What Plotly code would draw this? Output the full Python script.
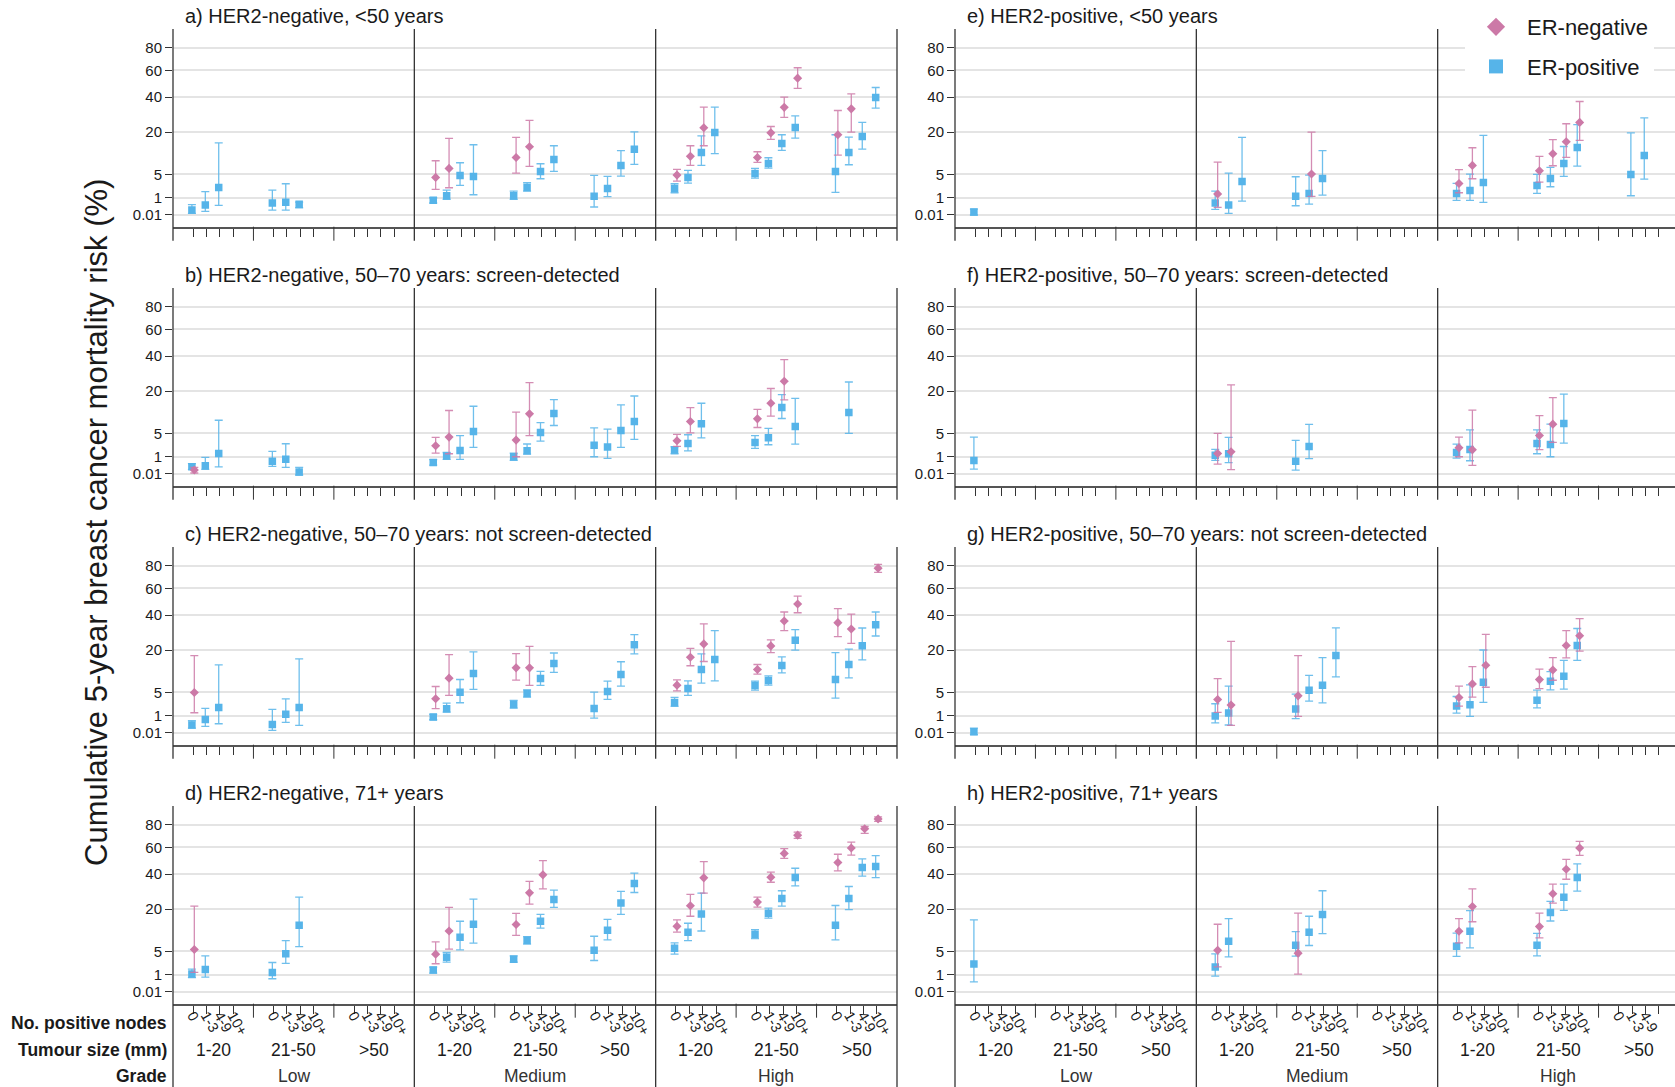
import numpy as np
import plotly.graph_objects as go

# ---------------------------------------------------------------- categories
GRADES = ["Low", "Medium", "High"]
SIZES = ["1-20", "21-50", ">50"]
NODES = ["0", "1-3", "4-9", "10+"]

Y_TICKS = [0.01, 1, 5, 20, 40, 60, 80]
Y_TICK_TEXT = ["0.01", "1", "5", "20", "40", "60", "80"]

# ---------------------------------------------------------------- data
# each row: (grade, tumour size, positive nodes, estimate %, lower CI %, upper CI %)

# a) HER2-negative, <50 years
A_ER_POS = [
    ("Low", "1-20", "0", 0.12, 0.029, 0.40),
    ("Low", "1-20", "1-3", 0.37, 0.076, 1.74),
    ("Low", "1-20", "4-9", 2.39, 0.35, 15.3),
    ("Low", "21-50", "0", 0.52, 0.12, 1.98),
    ("Low", "21-50", "1-3", 0.57, 0.12, 3.03),
    ("Low", "21-50", "4-9", 0.42, 0.22, 0.59),
    ("Medium", "1-20", "0", 0.74, 0.52, 1.0),
    ("Medium", "1-20", "1-3", 1.22, 0.83, 1.98),
    ("Medium", "1-20", "4-9", 4.77, 2.73, 8.14),
    ("Medium", "1-20", "10+", 4.53, 1.34, 14.5),
    ("Medium", "21-50", "0", 1.22, 0.83, 1.83),
    ("Medium", "21-50", "1-3", 2.39, 1.83, 3.22),
    ("Medium", "21-50", "4-9", 5.73, 4.02, 7.84),
    ("Medium", "21-50", "10+", 9.18, 5.73, 14.1),
    ("Medium", ">50", "0", 1.15, 0.26, 4.77),
    ("Medium", ">50", "1-3", 2.23, 1.11, 4.53),
    ("Medium", ">50", "4-9", 7.36, 4.61, 12.2),
    ("Medium", ">50", "10+", 12.7, 7.64, 20.2),
    ("High", "1-20", "0", 2.23, 1.6, 3.03),
    ("High", "1-20", "1-3", 4.31, 3.16, 5.99),
    ("High", "1-20", "4-9", 11.56, 7.36, 18.3),
    ("High", "1-20", "10+", 19.9, 11.1, 33.7),
    ("High", "21-50", "0", 5.24, 4.17, 6.52),
    ("High", "21-50", "1-3", 7.94, 6.61, 9.72),
    ("High", "21-50", "4-9", 15.0, 12.3, 18.8),
    ("High", "21-50", "10+", 22.3, 17.3, 28.5),
    ("High", ">50", "0", 5.73, 1.64, 18.8),
    ("High", ">50", "1-3", 11.56, 7.55, 17.7),
    ("High", ">50", "4-9", 18.0, 12.8, 24.9),
    ("High", ">50", "10+", 39.9, 33.0, 46.8),
]
A_ER_NEG = [
    ("Medium", "1-20", "0", 4.31, 2.08, 8.76),
    ("Medium", "1-20", "1-3", 6.52, 2.34, 17.2),
    ("Medium", "21-50", "0", 9.83, 5.32, 17.6),
    ("Medium", "21-50", "1-3", 13.7, 7.07, 26.0),
    ("High", "1-20", "0", 4.84, 3.55, 6.25),
    ("High", "1-20", "1-3", 10.2, 7.36, 14.1),
    ("High", "1-20", "4-9", 22.2, 14.1, 33.7),
    ("High", "21-50", "0", 9.83, 8.24, 11.8),
    ("High", "21-50", "1-3", 19.7, 16.7, 22.8),
    ("High", "21-50", "4-9", 33.5, 27.6, 40.1),
    ("High", "21-50", "10+", 53.8, 46.1, 62.2),
    ("High", ">50", "0", 18.8, 10.6, 31.6),
    ("High", ">50", "1-3", 32.6, 20.0, 42.3),
]

# b) HER2-negative, 50-70 years: screen-detected
B_ER_POS = [
    ("Low", "1-20", "0", 0.22, 0.11, 0.40),
    ("Low", "1-20", "1-3", 0.27, 0.11, 0.93),
    ("Low", "1-20", "4-9", 1.38, 0.21, 8.6),
    ("Low", "21-50", "0", 0.57, 0.24, 1.64),
    ("Low", "21-50", "1-3", 0.74, 0.19, 2.85),
    ("Low", "21-50", "4-9", 0.036, 0.001, 0.19),
    ("Medium", "1-20", "0", 0.49, 0.31, 0.71),
    ("Medium", "1-20", "1-3", 1.07, 0.74, 1.5),
    ("Medium", "1-20", "4-9", 1.78, 0.74, 4.5),
    ("Medium", "1-20", "10+", 5.47, 2.23, 13.5),
    ("Medium", "21-50", "0", 1.0, 0.65, 1.43),
    ("Medium", "21-50", "1-3", 1.73, 1.3, 2.8),
    ("Medium", "21-50", "4-9", 5.2, 3.35, 7.9),
    ("Medium", "21-50", "10+", 10.8, 7.05, 16.2),
    ("Medium", ">50", "0", 2.6, 1.0, 6.4),
    ("Medium", ">50", "1-3", 2.28, 0.83, 6.05),
    ("Medium", ">50", "4-9", 5.72, 2.23, 14.05),
    ("Medium", ">50", "10+", 8.2, 3.67, 17.8),
    ("High", "1-20", "0", 1.83, 1.34, 2.34),
    ("High", "1-20", "1-3", 2.9, 1.73, 4.68),
    ("High", "1-20", "4-9", 7.53, 4.0, 14.7),
    ("High", "21-50", "0", 3.09, 2.07, 4.5),
    ("High", "21-50", "1-3", 4.0, 2.67, 6.24),
    ("High", "21-50", "4-9", 13.0, 9.16, 18.4),
    ("High", "21-50", "10+", 6.78, 2.79, 16.7),
    ("High", ">50", "1-3", 11.2, 4.99, 24.6),
]
B_ER_NEG = [
    ("Low", "1-20", "0", 0.087, 0.019, 0.19),
    ("Medium", "1-20", "0", 2.5, 1.43, 4.09),
    ("Medium", "1-20", "1-3", 4.16, 1.34, 11.9),
    ("Medium", "21-50", "0", 3.54, 1.0, 11.3),
    ("Medium", "21-50", "1-3", 10.7, 4.5, 24.3),
    ("High", "1-20", "0", 3.41, 2.39, 4.76),
    ("High", "1-20", "1-3", 8.2, 5.14, 13.0),
    ("High", "21-50", "0", 9.05, 6.5, 12.3),
    ("High", "21-50", "1-3", 14.7, 9.9, 21.3),
    ("High", "21-50", "4-9", 25.0, 16.1, 37.7),
]

# c) HER2-negative, 50-70 years: not screen-detected
C_ER_POS = [
    ("Low", "1-20", "0", 0.26, 0.12, 0.54),
    ("Low", "1-20", "1-3", 0.65, 0.19, 1.93),
    ("Low", "1-20", "4-9", 2.07, 0.33, 13.65),
    ("Low", "21-50", "0", 0.29, 0.05, 1.78),
    ("Low", "21-50", "1-3", 1.15, 0.42, 3.6),
    ("Low", "21-50", "4-9", 2.07, 0.24, 16.1),
    ("Medium", "1-20", "0", 0.86, 0.62, 1.15),
    ("Medium", "1-20", "1-3", 1.88, 1.43, 2.79),
    ("Medium", "1-20", "4-9", 5.06, 2.85, 8.53),
    ("Medium", "1-20", "10+", 10.5, 5.72, 19.2),
    ("Medium", "21-50", "0", 2.56, 1.97, 3.28),
    ("Medium", "21-50", "1-3", 4.75, 3.94, 5.64),
    ("Medium", "21-50", "4-9", 8.84, 6.78, 11.2),
    ("Medium", "21-50", "10+", 14.2, 10.9, 18.7),
    ("Medium", ">50", "0", 1.93, 0.77, 5.06),
    ("Medium", ">50", "1-3", 5.23, 3.47, 8.02),
    ("Medium", ">50", "4-9", 10.1, 6.6, 14.9),
    ("Medium", ">50", "10+", 22.7, 18.3, 28.1),
    ("High", "1-20", "0", 2.91, 2.23, 3.88),
    ("High", "1-20", "1-3", 5.97, 4.3, 8.12),
    ("High", "1-20", "4-9", 11.9, 7.43, 18.3),
    ("High", "1-20", "10+", 15.8, 8.12, 30.4),
    ("High", "21-50", "0", 6.78, 5.55, 8.02),
    ("High", "21-50", "1-3", 8.22, 6.87, 9.7),
    ("High", "21-50", "4-9", 13.4, 10.7, 17.0),
    ("High", "21-50", "10+", 25.0, 20.0, 30.9),
    ("High", ">50", "0", 8.53, 3.74, 18.9),
    ("High", ">50", "1-3", 13.8, 9.05, 20.5),
    ("High", ">50", "4-9", 22.2, 15.7, 31.9),
    ("High", ">50", "10+", 33.9, 27.3, 42.2),
]
C_ER_NEG = [
    ("Low", "1-20", "0", 4.99, 1.34, 17.5),
    ("Medium", "1-20", "0", 3.6, 1.88, 6.5),
    ("Medium", "1-20", "1-3", 8.94, 4.3, 18.0),
    ("Medium", "21-50", "0", 12.5, 8.32, 18.4),
    ("Medium", "21-50", "1-3", 12.5, 6.78, 21.9),
    ("High", "1-20", "0", 6.87, 5.39, 8.42),
    ("High", "1-20", "1-3", 16.8, 13.3, 20.9),
    ("High", "1-20", "4-9", 23.1, 15.0, 34.4),
    ("High", "21-50", "0", 11.9, 10.3, 13.8),
    ("High", "21-50", "1-3", 22.1, 18.9, 25.2),
    ("High", "21-50", "4-9", 36.2, 30.4, 42.2),
    ("High", "21-50", "10+", 47.9, 41.7, 53.9),
    ("High", ">50", "0", 35.2, 27.0, 44.5),
    ("High", ">50", "1-3", 31.3, 23.4, 40.8),
    ("High", ">50", "10+", 77.8, 73.8, 81.3),
]

# d) HER2-negative, 71+ years
D_ER_POS = [
    ("Low", "1-20", "0", 1.07, 0.71, 1.69),
    ("Low", "1-20", "1-3", 1.64, 0.77, 4.01),
    ("Low", "21-50", "0", 1.26, 0.62, 2.72),
    ("Low", "21-50", "1-3", 4.44, 2.55, 7.9),
    ("Low", "21-50", "4-9", 13.1, 6.22, 26.1),
    ("Medium", "1-20", "0", 1.55, 1.18, 1.97),
    ("Medium", "1-20", "1-3", 3.73, 2.78, 4.74),
    ("Medium", "1-20", "4-9", 8.92, 5.37, 14.7),
    ("Medium", "1-20", "10+", 13.5, 7.13, 25.1),
    ("Medium", "21-50", "0", 3.33, 2.78, 4.01),
    ("Medium", "21-50", "1-3", 8.0, 6.85, 9.13),
    ("Medium", "21-50", "4-9", 14.7, 12.0, 17.6),
    ("Medium", "21-50", "10+", 24.9, 20.9, 30.1),
    ("Medium", ">50", "0", 5.29, 3.08, 9.24),
    ("Medium", ">50", "1-3", 11.3, 8.1, 15.5),
    ("Medium", ">50", "4-9", 23.0, 17.6, 29.3),
    ("Medium", ">50", "10+", 34.0, 28.7, 40.7),
    ("High", "1-20", "0", 5.79, 4.37, 7.22),
    ("High", "1-20", "1-3", 10.6, 7.9, 13.9),
    ("High", "1-20", "4-9", 17.8, 11.0, 28.3),
    ("High", "21-50", "0", 9.88, 8.5, 11.5),
    ("High", "21-50", "1-3", 18.1, 16.0, 20.5),
    ("High", "21-50", "4-9", 25.4, 21.5, 29.7),
    ("High", "21-50", "10+", 37.8, 32.6, 44.1),
    ("High", ">50", "0", 13.1, 8.1, 21.8),
    ("High", ">50", "1-3", 25.4, 19.8, 32.2),
    ("High", ">50", "4-9", 44.6, 38.7, 50.9),
    ("High", ">50", "10+", 45.3, 37.8, 53.4),
]
D_ER_NEG = [
    ("Low", "1-20", "0", 5.46, 1.26, 21.5),
    ("Medium", "1-20", "0", 4.37, 2.5, 7.5),
    ("Medium", "1-20", "1-3", 11.0, 5.54, 20.9),
    ("Medium", "21-50", "0", 13.4, 9.55, 18.1),
    ("Medium", "21-50", "1-3", 28.5, 22.5, 35.3),
    ("Medium", "21-50", "4-9", 39.6, 30.8, 49.6),
    ("High", "1-20", "0", 12.7, 10.6, 15.3),
    ("High", "1-20", "1-3", 21.7, 16.8, 27.6),
    ("High", "1-20", "4-9", 37.6, 28.3, 48.9),
    ("High", "21-50", "0", 23.5, 21.0, 26.1),
    ("High", "21-50", "1-3", 38.0, 34.8, 41.4),
    ("High", "21-50", "4-9", 55.2, 51.4, 59.0),
    ("High", "21-50", "10+", 70.5, 67.6, 73.2),
    ("High", ">50", "0", 48.2, 42.3, 54.5),
    ("High", ">50", "1-3", 59.5, 53.9, 64.5),
    ("High", ">50", "4-9", 76.3, 72.0, 78.4),
    ("High", ">50", "10+", 85.7, 83.2, 87.7),
]

# e) HER2-positive, <50 years
E_ER_POS = [
    ("Low", "1-20", "0", 0.058, 0.007, 0.16),
    ("Medium", "1-20", "0", 0.52, 0.15, 1.83),
    ("Medium", "1-20", "1-3", 0.37, 0.029, 5.32),
    ("Medium", "1-20", "4-9", 3.48, 0.68, 17.6),
    ("Medium", "21-50", "0", 1.15, 0.33, 4.46),
    ("Medium", "21-50", "1-3", 1.51, 0.44, 4.84),
    ("Medium", "21-50", "4-9", 4.1, 1.30, 12.2),
    ("High", "1-20", "0", 1.51, 0.74, 3.09),
    ("High", "1-20", "1-3", 1.93, 0.74, 5.08),
    ("High", "1-20", "4-9", 3.28, 0.57, 18.5),
    ("High", "21-50", "0", 2.73, 1.51, 5.0),
    ("High", "21-50", "1-3", 4.1, 2.5, 6.79),
    ("High", "21-50", "4-9", 7.94, 4.53, 13.8),
    ("High", "21-50", "10+", 13.4, 7.17, 23.8),
    ("High", ">50", "1-3", 5.0, 1.22, 19.7),
    ("High", ">50", "4-9", 10.5, 3.95, 27.4),
]
E_ER_NEG = [
    ("Medium", "1-20", "0", 1.43, 0.24, 8.35),
    ("Medium", "21-50", "1-3", 5.08, 1.15, 20.0),
    ("High", "1-20", "0", 3.09, 1.6, 6.17),
    ("High", "1-20", "1-3", 7.36, 4.02, 13.3),
    ("High", "21-50", "0", 5.9, 3.35, 10.2),
    ("High", "21-50", "1-3", 11.1, 7.26, 16.6),
    ("High", "21-50", "4-9", 15.7, 9.83, 24.2),
    ("High", "21-50", "10+", 24.9, 16.3, 37.2),
]

# f) HER2-positive, 50-70 years: screen-detected
F_ER_POS = [
    ("Low", "1-20", "0", 0.65, 0.12, 4.16),
    ("Medium", "1-20", "0", 1.15, 0.65, 1.93),
    ("Medium", "1-20", "1-3", 1.34, 0.47, 4.09),
    ("Medium", "21-50", "0", 0.57, 0.087, 3.47),
    ("Medium", "21-50", "1-3", 2.39, 0.8, 7.34),
    ("High", "1-20", "0", 1.51, 0.86, 2.79),
    ("High", "1-20", "1-3", 1.93, 0.62, 5.89),
    ("High", "21-50", "0", 2.91, 1.34, 5.89),
    ("High", "21-50", "1-3", 2.73, 1.0, 7.43),
    ("High", "21-50", "4-9", 7.62, 2.97, 18.6),
]
F_ER_NEG = [
    ("Medium", "1-20", "0", 1.38, 0.37, 4.99),
    ("Medium", "1-20", "1-3", 1.6, 0.098, 23.1),
    ("High", "1-20", "0", 2.18, 1.0, 4.16),
    ("High", "1-20", "1-3", 1.88, 0.29, 12.0),
    ("High", "21-50", "0", 4.52, 1.88, 10.1),
    ("High", "21-50", "1-3", 7.43, 3.09, 17.1),
]

# g) HER2-positive, 50-70 years: not screen-detected
G_ER_POS = [
    ("Low", "1-20", "0", 0.024, 0.0, 0.12),
    ("Medium", "1-20", "0", 0.97, 0.38, 2.67),
    ("Medium", "1-20", "1-3", 1.3, 0.26, 6.58),
    ("Medium", "21-50", "0", 1.83, 0.71, 4.59),
    ("Medium", "21-50", "1-3", 5.54, 3.14, 9.88),
    ("Medium", "21-50", "4-9", 6.85, 2.84, 16.6),
    ("Medium", "21-50", "10+", 17.6, 9.34, 32.0),
    ("High", "1-20", "0", 2.28, 1.3, 4.08),
    ("High", "1-20", "1-3", 2.5, 0.93, 6.94),
    ("High", "1-20", "4-9", 7.7, 2.9, 20.1),
    ("High", "21-50", "0", 3.33, 2.02, 5.54),
    ("High", "21-50", "1-3", 8.0, 5.62, 11.1),
    ("High", "21-50", "4-9", 9.56, 5.79, 15.5),
    ("High", "21-50", "10+", 22.3, 15.5, 31.6),
]
G_ER_NEG = [
    ("Medium", "1-20", "0", 3.46, 1.38, 8.81),
    ("Medium", "1-20", "1-3", 2.44, 0.24, 24.4),
    ("Medium", "21-50", "0", 4.22, 0.93, 17.5),
    ("High", "1-20", "0", 3.87, 2.28, 6.58),
    ("High", "1-20", "1-3", 7.22, 3.94, 13.0),
    ("High", "1-20", "4-9", 13.5, 6.3, 28.2),
    ("High", "21-50", "0", 8.5, 5.96, 12.0),
    ("High", "21-50", "1-3", 11.7, 8.3, 16.6),
    ("High", "21-50", "4-9", 22.3, 16.5, 30.4),
    ("High", "21-50", "10+", 27.4, 19.6, 37.8),
]

# h) HER2-positive, 71+ years
H_ER_POS = [
    ("Low", "1-20", "0", 2.44, 0.38, 15.3),
    ("Medium", "1-20", "0", 1.97, 0.86, 4.44),
    ("Medium", "1-20", "1-3", 7.7, 3.8, 15.8),
    ("Medium", "21-50", "0", 6.58, 3.94, 10.8),
    ("Medium", "21-50", "1-3", 10.6, 6.49, 16.8),
    ("Medium", "21-50", "4-9", 17.6, 10.1, 29.7),
    ("High", "1-20", "0", 6.31, 3.87, 10.3),
    ("High", "1-20", "1-3", 10.9, 5.88, 19.3),
    ("High", "21-50", "0", 6.58, 4.01, 10.2),
    ("High", "21-50", "1-3", 18.5, 14.8, 23.9),
    ("High", "21-50", "4-9", 26.0, 19.4, 33.6),
    ("High", "21-50", "10+", 37.8, 29.5, 47.2),
]
H_ER_NEG = [
    ("Medium", "1-20", "0", 5.29, 2.02, 13.5),
    ("Medium", "21-50", "0", 4.59, 1.07, 18.2),
    ("High", "1-20", "0", 10.9, 7.22, 15.8),
    ("High", "1-20", "1-3", 21.3, 14.5, 30.8),
    ("High", "21-50", "0", 12.6, 8.71, 18.2),
    ("High", "21-50", "1-3", 28.0, 23.0, 33.6),
    ("High", "21-50", "4-9", 43.4, 36.7, 50.6),
    ("High", "21-50", "10+", 59.5, 53.7, 65.0),
]

# (title, ER+ rows, ER- rows, column, row)
PANELS = [
    ("a) HER2-negative, <50 years", A_ER_POS, A_ER_NEG, 0, 0),
    ("b) HER2-negative, 50\u201370 years: screen-detected", B_ER_POS, B_ER_NEG, 0, 1),
    ("c) HER2-negative, 50\u201370 years: not screen-detected", C_ER_POS, C_ER_NEG, 0, 2),
    ("d) HER2-negative, 71+ years", D_ER_POS, D_ER_NEG, 0, 3),
    ("e) HER2-positive, <50 years", E_ER_POS, E_ER_NEG, 1, 0),
    ("f) HER2-positive, 50\u201370 years: screen-detected", F_ER_POS, F_ER_NEG, 1, 1),
    ("g) HER2-positive, 50\u201370 years: not screen-detected", G_ER_POS, G_ER_NEG, 1, 2),
    ("h) HER2-positive, 71+ years", H_ER_POS, H_ER_NEG, 1, 3),
]

# ---------------------------------------------------------------- styling
PINK = "#CC79A7"
BLUE = "#56B4E9"
PINK_BAR = "rgba(204,121,167,0.85)"
BLUE_BAR = "rgba(86,180,233,0.85)"
INK = "#1a1a1a"
LINE = "#333333"
FONT = "Liberation Sans, Arial, Helvetica, sans-serif"

W, H = 1675, 1087
N_UNITS = 54                      # 3 grades x 3 sizes x 6 slots
PX_PER_UNIT = 724 / N_UNITS
COL_X0 = [173, 955]
ROW_Y0, ROW_STEP, PLOT_H = 29, 259, 197.7
Y_RANGE = [-0.535, 9.94]          # square-root scale
DODGE = 0.09


def sqrt_scale(v):
    return float(np.sqrt(max(v, 0.0)))


def slot(grade, size, nodes):
    return GRADES.index(grade) * 18 + SIZES.index(size) * 6 + 1.5 + NODES.index(nodes)


def px_to_paper_x(px):
    return px / W


def px_to_paper_y(py):
    return 1 - py / H


fig = go.Figure()
shapes, annotations = [], []

for i, (title, er_pos, er_neg, col, row) in enumerate(PANELS, start=1):
    xa = "x" if i == 1 else f"x{i}"
    ya = "y" if i == 1 else f"y{i}"
    x0 = COL_X0[col]
    top = ROW_Y0 + row * ROW_STEP
    bottom = top + PLOT_H
    x_right_px = min(W, x0 + N_UNITS * PX_PER_UNIT)
    bottom_row = row == 3

    for rows, color, bar, symbol, size, off in (
        (er_pos, BLUE, BLUE_BAR, "square", 7.5, -DODGE),
        (er_neg, PINK, PINK_BAR, "diamond", 7, DODGE),
    ):
        xs = [slot(g, s, n) + off for g, s, n, *_ in rows]
        ys = [sqrt_scale(e) for *_, e, lo, hi in rows]
        up = [sqrt_scale(hi) - sqrt_scale(e) for *_, e, lo, hi in rows]
        dn = [sqrt_scale(e) - sqrt_scale(lo) for *_, e, lo, hi in rows]
        fig.add_trace(go.Scatter(
            x=xs, y=ys, mode="markers", xaxis=xa, yaxis=ya,
            marker=dict(symbol=symbol, size=size, color=color, line=dict(width=0)),
            error_y=dict(type="data", symmetric=False, array=up, arrayminus=dn,
                         color=bar, thickness=1.3, width=4),
            showlegend=False, hoverinfo="skip",
        ))

    xkey = "xaxis" if i == 1 else f"xaxis{i}"
    ykey = "yaxis" if i == 1 else f"yaxis{i}"
    node_vals = [slot(g, s, n) for g in GRADES for s in SIZES for n in NODES]
    fig.layout[xkey] = dict(
        domain=[px_to_paper_x(x0), px_to_paper_x(x_right_px)],
        range=[0, (x_right_px - x0) / PX_PER_UNIT],
        anchor=ya, showgrid=False, zeroline=False, fixedrange=True,
        showline=True, linecolor="#555555", linewidth=1.6,
        tickmode="array", tickvals=node_vals,
        ticktext=[n for g in GRADES for s in SIZES for n in NODES],
        ticks="outside", ticklen=8, tickwidth=1, tickcolor=LINE,
        showticklabels=bottom_row, tickangle=60, ticklabelstandoff=-12,
        tickfont=dict(size=14.5, color=INK, family=FONT),
    )
    fig.layout[ykey] = dict(
        domain=[px_to_paper_y(bottom), px_to_paper_y(top)],
        range=Y_RANGE, anchor=xa, zeroline=False, fixedrange=True,
        showline=False, showgrid=True, gridcolor="#e4e4e4", gridwidth=1.5,
        tickmode="array", tickvals=[sqrt_scale(v) for v in Y_TICKS],
        ticktext=Y_TICK_TEXT, ticks="outside", ticklen=7, tickwidth=1,
        tickcolor=LINE, tickfont=dict(size=15, color=INK, family=FONT),
    )

    # longer ticks between tumour-size groups
    for g in range(3):
        for s in (1, 2):
            px = x0 + (g * 18 + s * 6) * PX_PER_UNIT
            shapes.append(dict(type="line", xref="paper", yref="paper",
                               x0=px_to_paper_x(px), x1=px_to_paper_x(px),
                               y0=px_to_paper_y(bottom), y1=px_to_paper_y(bottom + 14),
                               line=dict(color=LINE, width=1)))

    # grade separators (and panel edges), extended below the axis line
    line_end = H if bottom_row else bottom + 14
    for g in range(4):
        px = x0 + g * 18 * PX_PER_UNIT
        if px > W - 1:
            continue
        shapes.append(dict(type="line", xref="paper", yref="paper",
                           x0=px_to_paper_x(px), x1=px_to_paper_x(px),
                           y0=px_to_paper_y(top), y1=px_to_paper_y(line_end),
                           line=dict(color=LINE, width=1.3)))

    # panel title
    annotations.append(dict(text=title, xref="paper", yref="paper",
                            x=px_to_paper_x(x0 + 10), y=px_to_paper_y(top - 13),
                            xanchor="left", yanchor="middle", showarrow=False,
                            font=dict(size=20, color=INK, family=FONT)))

    # tumour size and grade labels under the bottom row
    if bottom_row:
        for gi, g in enumerate(GRADES):
            for si, s in enumerate(SIZES):
                annotations.append(dict(text=s, xref=xa, yref="paper",
                                        x=gi * 18 + si * 6 + 3, y=px_to_paper_y(1050),
                                        xanchor="center", yanchor="middle", showarrow=False,
                                        font=dict(size=17.5, color=INK, family=FONT)))
            annotations.append(dict(text=g, xref=xa, yref="paper",
                                    x=gi * 18 + 9, y=px_to_paper_y(1076),
                                    xanchor="center", yanchor="middle", showarrow=False,
                                    font=dict(size=17.5, color="#333333", family=FONT)))

# row headers at the bottom left
for text, py in (("No. positive nodes", 1023), ("Tumour size (mm)", 1050), ("Grade", 1076)):
    annotations.append(dict(text=f"<b>{text}</b>", xref="paper", yref="paper",
                            x=px_to_paper_x(169), y=px_to_paper_y(py),
                            xanchor="right", yanchor="middle", showarrow=False,
                            font=dict(size=17.5, color=INK, family=FONT)))

# shared y-axis title
annotations.append(dict(text="Cumulative 5-year breast cancer mortality risk (%)",
                        xref="paper", yref="paper", x=px_to_paper_x(96),
                        y=px_to_paper_y(523), textangle=-90, showarrow=False,
                        xanchor="center", yanchor="middle",
                        font=dict(size=31, color=INK, family=FONT)))

# legend entries
for name, color, symbol, grp in (("ER-negative", PINK, "diamond", "neg"),
                                 ("ER-positive", BLUE, "square", "pos")):
    fig.add_trace(go.Scatter(x=[None], y=[None], mode="markers", name=name,
                             xaxis="x5", yaxis="y5", legendgroup=grp,
                             marker=dict(symbol=symbol, size=14, color=color)))

fig.update_layout(
    width=W, height=H, template="none",
    margin=dict(l=0, r=0, t=0, b=0),
    paper_bgcolor="white", plot_bgcolor="white",
    font=dict(family=FONT, color=INK),
    shapes=shapes, annotations=annotations,
    showlegend=True,
    legend=dict(x=px_to_paper_x(1465), y=px_to_paper_y(6), xanchor="left", yanchor="top",
                bgcolor="white", borderwidth=0, itemwidth=52,
                font=dict(size=22, color=INK, family=FONT),
                tracegroupgap=8, traceorder="grouped"),
)

fig.write_html("out.html")
